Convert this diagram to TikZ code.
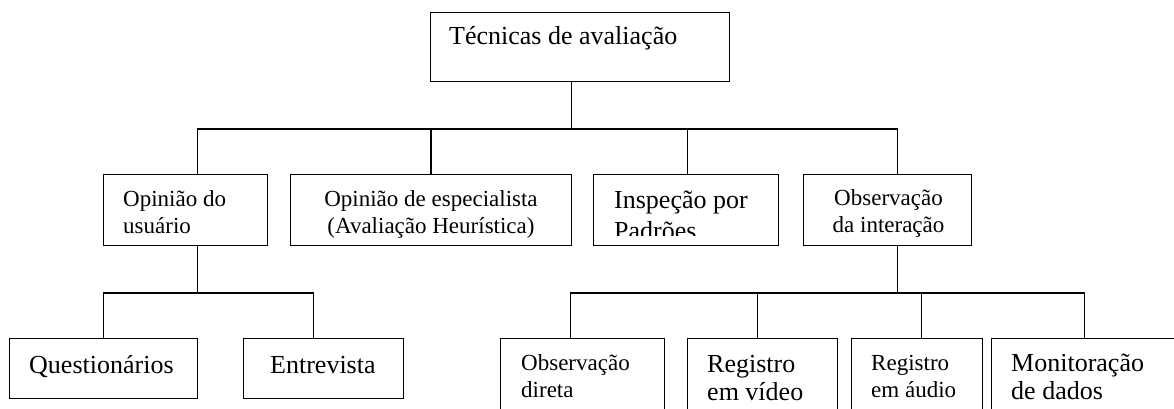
\documentclass[tikz,border=0pt]{standalone}
\usepackage{fontspec}
\setmainfont{Liberation Serif}
\usepackage{tikz}
\usetikzlibrary{positioning}

\tikzset{
  box/.style={draw, line width=1pt, anchor=north west, inner sep=0pt},
  link/.style={line width=1.1pt},
  bigtxt/.style={font=\fontsize{26}{28}\selectfont, inner sep=0pt, align=left},
  smalltxt/.style={font=\fontsize{23}{27}\selectfont, inner sep=0pt},
}

\begin{document}
\begin{tikzpicture}[x=1pt, y=-1pt]
	\useasboundingbox (0,0) rectangle (1174,408);
	\clip (0,0) rectangle (1174,408);
	% root
	\node[box, minimum width=299pt, minimum height=69pt] (root) at (430,12) {};
	\node[bigtxt, anchor=base west] (rootText) at ([xshift=19pt, yshift=-32pt]root.north west) {Técnicas de avaliação};
	% second level
	\node[box, minimum width=164pt, minimum height=71pt] (usr) at (103,174) {};
	\node[box, minimum width=281pt, minimum height=71pt] (esp) at (290,174) {};
	\node[box, minimum width=185pt, minimum height=71pt] (insp) at (593,174) {};
	\node[box, minimum width=168pt, minimum height=71pt] (obs) at (803,174) {};
	\node[smalltxt, align=left, anchor=base west] (usrText) at ([xshift=20pt, yshift=-59pt]usr.north west) {Opinião do\\usuário};
	\node[smalltxt, align=center, anchor=base] (espText) at ([yshift=-59pt]esp.north) {Opinião de especialista\\(Avaliação Heurística)};
	\begin{scope}
		\clip (insp.north west) rectangle ([yshift=11pt]insp.south east);
		\node[bigtxt, anchor=base west] (inspText) at ([xshift=21pt, yshift=-65pt]insp.north west) {Inspeção por\\[3pt]Padrões};
	\end{scope}
	\node[smalltxt, align=center, anchor=base] (obsText) at ([xshift=1pt, yshift=-58pt]obs.north) {Observação\\da interação};
	% third level
	\node[box, minimum width=188pt, minimum height=60pt] (quest) at (9,338) {};
	\node[box, minimum width=160pt, minimum height=60pt] (entr) at (243,338) {};
	\node[bigtxt, anchor=base west] (questText) at ([xshift=20pt, yshift=-35pt]quest.north west) {Questionários};
	\node[bigtxt, anchor=base west] (entrText) at ([xshift=27pt, yshift=-35pt]entr.north west) {Entrevista};
	\node[box, minimum width=164pt, minimum height=90pt] (dir) at (500,338) {};
	\node[box, minimum width=150pt, minimum height=90pt] (vid) at (687,338) {};
	\node[box, minimum width=131pt, minimum height=90pt] (aud) at (851,338) {};
	\node[box, minimum width=186pt, minimum height=90pt] (mon) at (991,338) {};
	\node[smalltxt, align=left, anchor=base west] (dirText) at ([xshift=21pt, yshift=-59pt]dir.north west) {Observação\\direta};
	\node[bigtxt, anchor=base west] (vidText) at ([xshift=20pt, yshift=-62pt]vid.north west) {Registro\\em vídeo};
	\node[smalltxt, align=left, anchor=base west] (audText) at ([xshift=20pt, yshift=-59pt]aud.north west) {Registro\\em áudio};
	\node[bigtxt, anchor=base west] (monText) at ([xshift=20pt, yshift=-61pt]mon.north west) {Monitoração\\de dados};
	% connectors
	\draw[link] ([xshift=-8.5pt]root.south) -- ++(0,47) coordinate (busTop);
	\foreach \n/\s in {usr/12, esp/0, insp/1.5, obs/10}
		\draw[link] (busTop) -| ([xshift=\s pt]\n.north);
	\draw[link] ([xshift=12pt]usr.south) -- ++(0,47) coordinate (busUsr);
	\foreach \n/\s in {quest/0, entr/-10}
		\draw[link] (busUsr) -| ([xshift=\s pt]\n.north);
	\draw[link] ([xshift=10pt]obs.south) -- ++(0,47) coordinate (busObs);
	\foreach \n/\s in {dir/-12, vid/-5, aud/4.5, mon/0}
		\draw[link] (busObs) -| ([xshift=\s pt]\n.north);
\end{tikzpicture}
\end{document}
